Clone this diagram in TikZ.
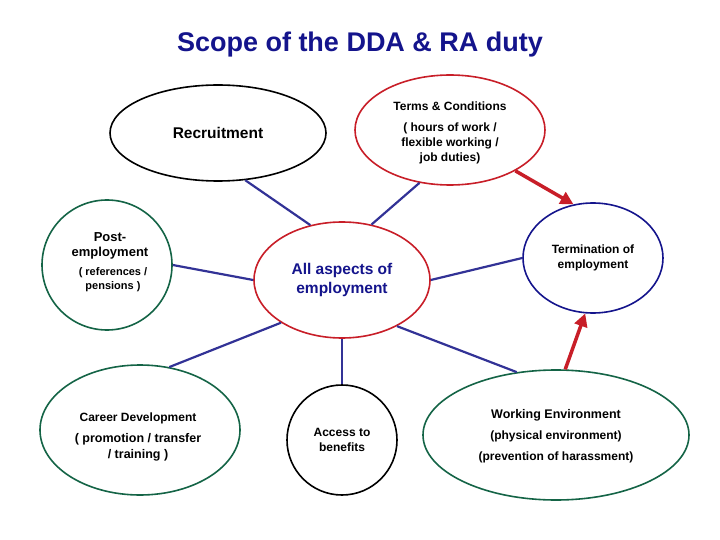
\documentclass[tikz,border=0pt]{standalone}
\usepackage{fontspec}
\setmainfont{Liberation Sans}
\usetikzlibrary{shapes.geometric,arrows.meta}
\definecolor{tblue}{RGB}{20,20,140}
\definecolor{lblue}{RGB}{50,50,150}
\definecolor{dgreen}{RGB}{20,100,70}
\definecolor{dred}{RGB}{200,30,40}
\begin{document}
\begin{tikzpicture}[x=1pt,y=-1pt,
  el/.style={ellipse,draw,line width=1.6pt,fill=white,align=center,font=\fontsize{12.5}{14}\selectfont\bfseries,inner sep=0pt},
  sm/.style={align=center,font=\fontsize{12}{15}\selectfont\bfseries},
  con/.style={draw=lblue,line width=2.2pt},
  rarr/.style={draw=dred,line width=3.5pt,-{Triangle[length=13pt,width=13pt]}}]
\useasboundingbox (0,0) rectangle (720,540);
\node[font=\fontsize{27}{30}\selectfont\bfseries,text=tblue] (title) at (360,45) {Scope of the DDA \& RA duty};
\node[el,draw=black,minimum width=216,minimum height=96,font=\fontsize{15.5}{18}\selectfont\bfseries] (rec) at (218,133) {Recruitment};
\node[el,draw=dred,minimum width=190,minimum height=110] (terms) at (450,130) {};
\node[sm] (tt) at (450,106) {Terms \& Conditions};
\node[sm] (tb) at (450,143) {( hours of work /\\flexible working /\\job duties)};
\node[el,draw=dgreen,minimum width=130,minimum height=130] (post) at (107,265) {};
\node[sm,font=\fontsize{13}{15}\selectfont\bfseries] (pt) at (110,246) {Post-\\employment};
\node[sm,font=\fontsize{11}{14}\selectfont\bfseries] (pb) at (113,280) {( references /\\pensions )};
\node[el,draw=dred,minimum width=176,minimum height=116,font=\fontsize{15.5}{19}\selectfont\bfseries,text=tblue] (cen) at (342,280) {All aspects of\\employment};
\node[el,draw=tblue,minimum width=140,minimum height=110,font=\fontsize{12}{15}\selectfont\bfseries] (term) at (593,258) {Termination of\\employment};
\node[el,draw=dgreen,minimum width=200,minimum height=130] (car) at (140,430) {};
\node[sm] (ct) at (138,418) {Career Development};
\node[sm,font=\fontsize{12.5}{16}\selectfont\bfseries] (cb) at (138,447) {( promotion / transfer\\/ training )};
\node[el,draw=black,minimum width=110,minimum height=110,font=\fontsize{12}{15}\selectfont\bfseries] (acc) at (342,440) {Access to\\benefits};
\node[el,draw=dgreen,minimum width=266,minimum height=130] (work) at (556,435) {};
\node[sm,font=\fontsize{12.5}{15}\selectfont\bfseries] (wt) at (556,415) {Working Environment};
\node[sm,font=\fontsize{12}{21}\selectfont\bfseries] (wb) at (556,447) {(physical environment)\\(prevention of harassment)};
\draw[con] (cen.120) -- (rec.300);
\draw[con] (cen.62) -- (terms.240);
\draw[con] (cen.west) -- (post.east);
\draw[con] (cen.east) -- (term.west);
\draw[con] (cen.215) -- (car.65);
\draw[con] (cen.south) -- (acc.north);
\draw[con] (cen.-40) -- (work.122);
\draw[rarr] (terms.-32) -- (term.110);
\draw[rarr] (work.82) -- (term.-98);
\end{tikzpicture}
\end{document}
